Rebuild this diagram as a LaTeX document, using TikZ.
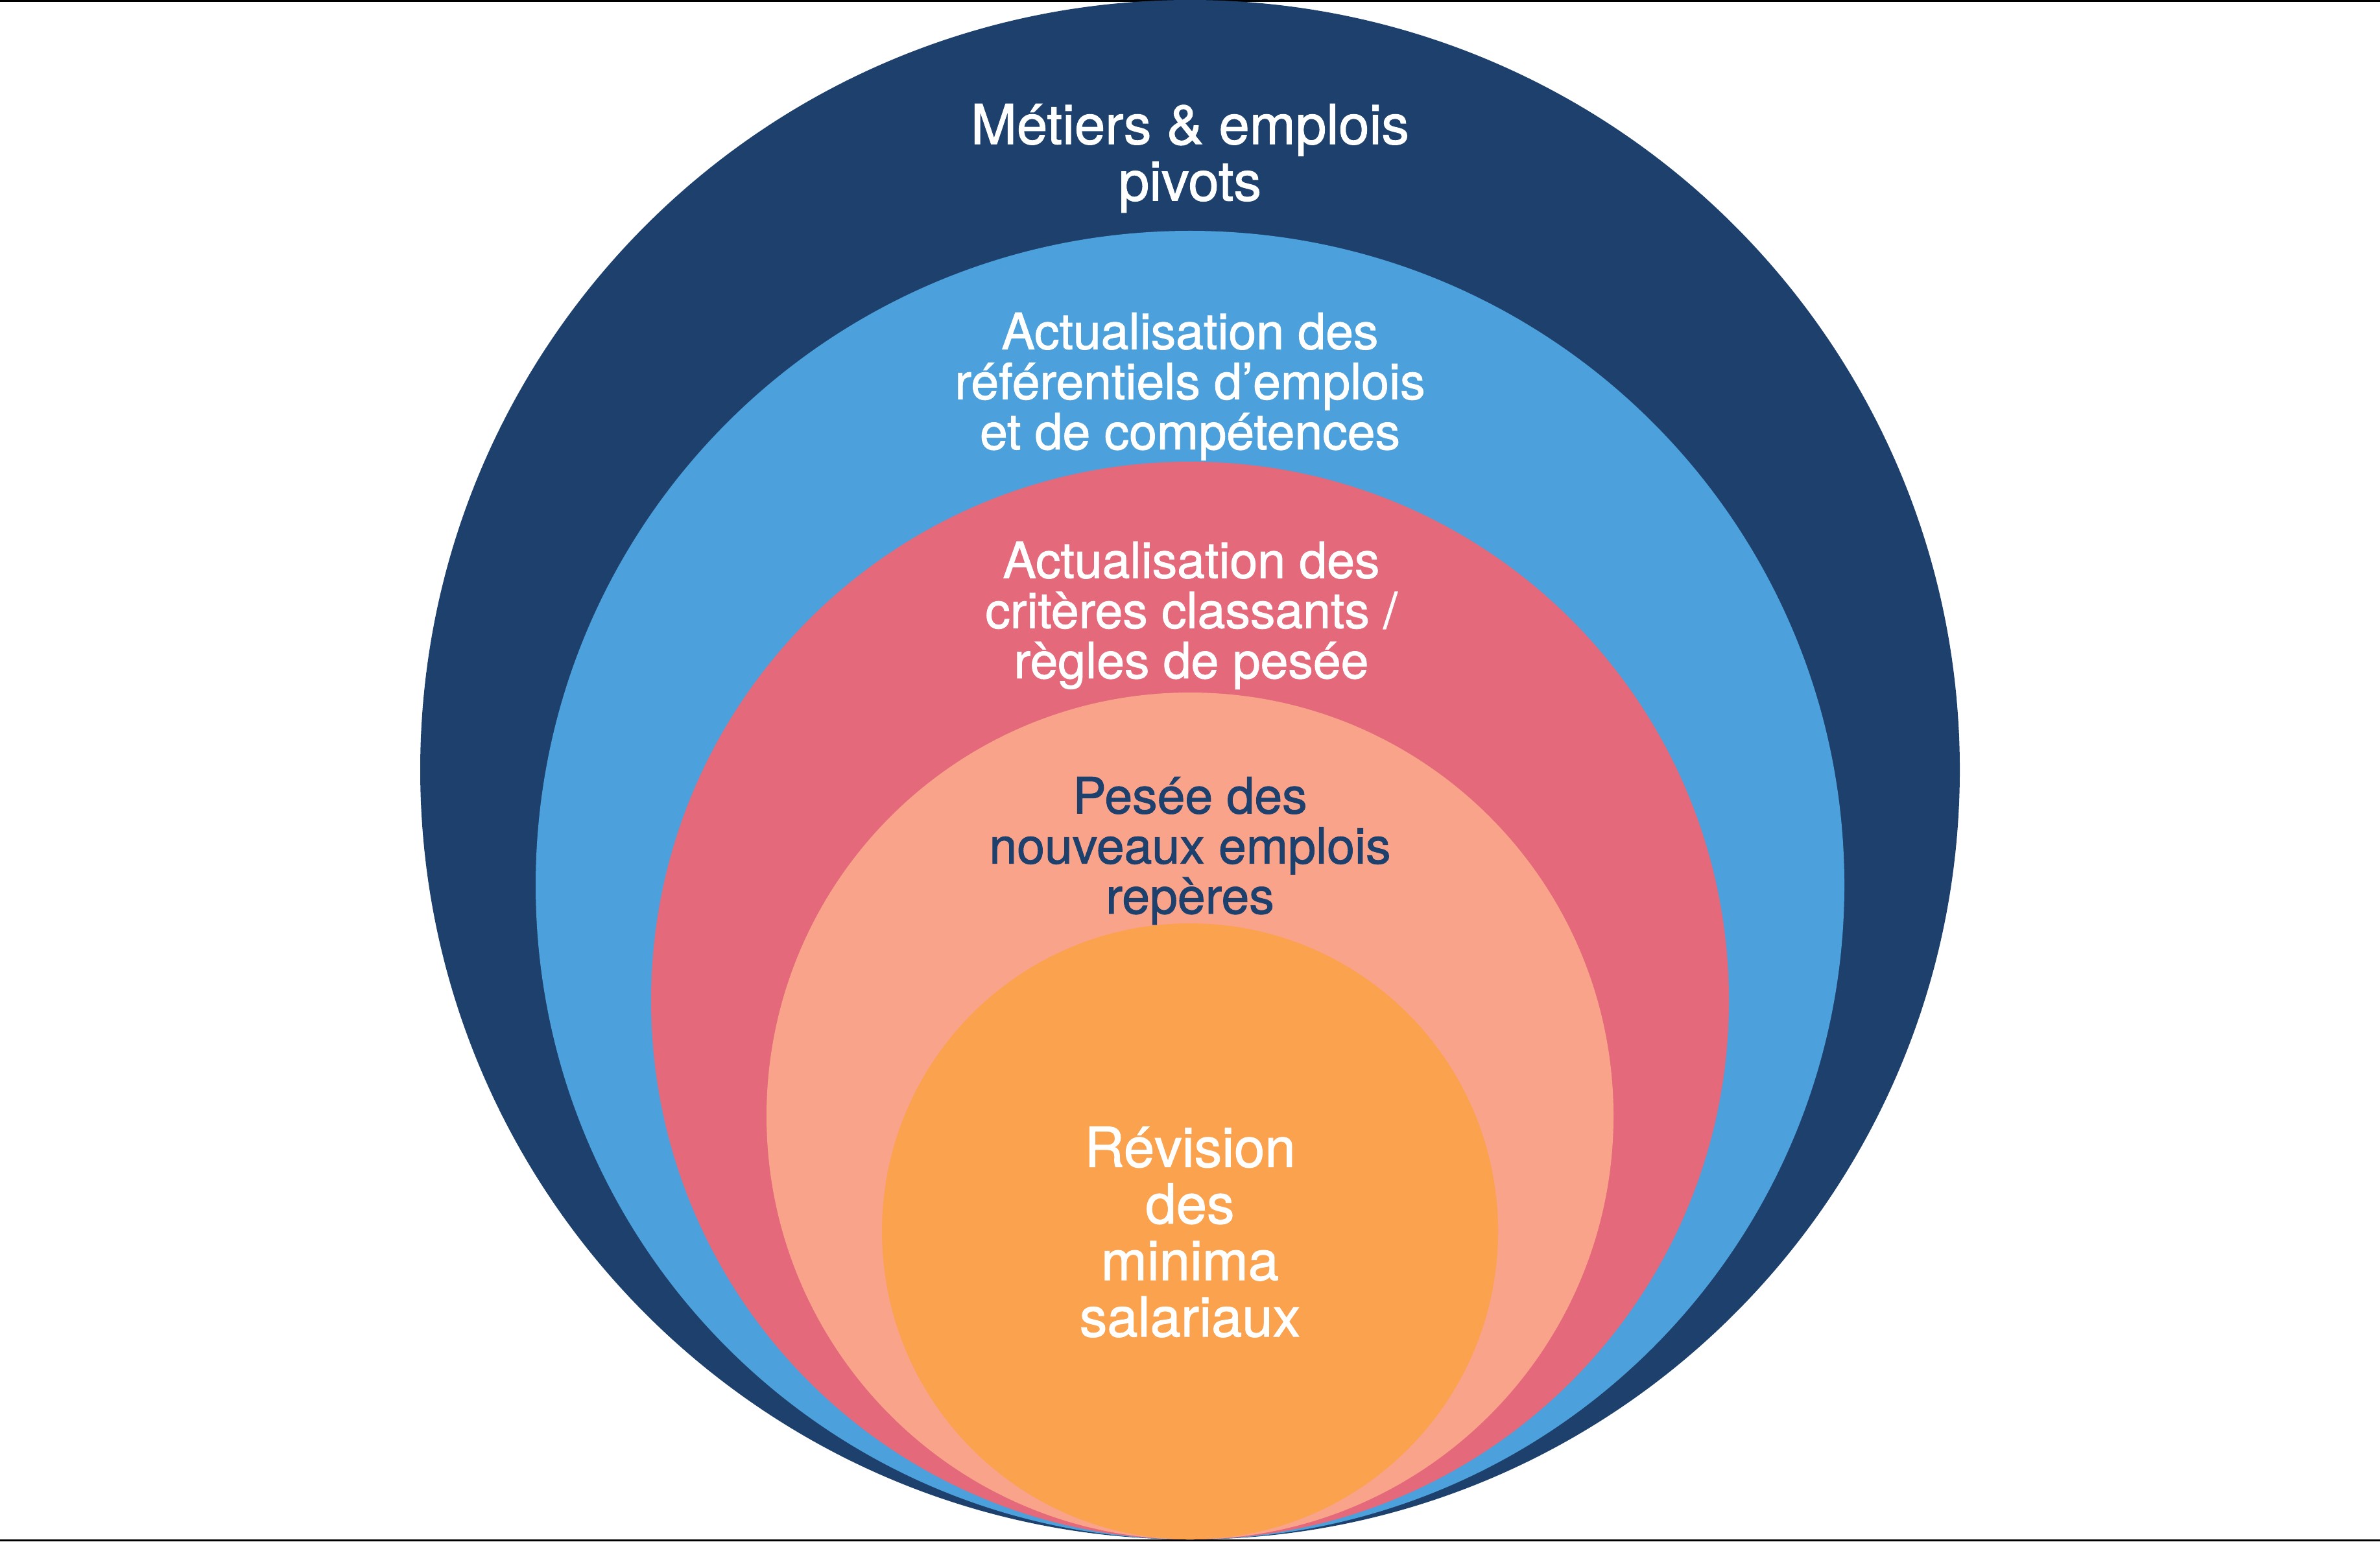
\documentclass[tikz,border=0pt]{standalone}
\usepackage{fontspec}
\setmainfont{TeX Gyre Heros}
\newfontfamily\medfont[FakeBold=1.3]{TeX Gyre Heros}
\definecolor{navy}{RGB}{30,64,108}
\definecolor{skyb}{RGB}{76,160,219}
\definecolor{rosered}{RGB}{228,105,123}
\definecolor{salmon}{RGB}{250,163,139}
\definecolor{orangec}{RGB}{250,162,78}
\tikzset{
  bigtxt/.style={align=center, inner sep=0pt, text=white, font=\medfont\fontsize{24.2pt}{24.8pt}\selectfont},
  midtxt/.style={align=center, inner sep=0pt, text=white, font=\medfont\fontsize{21.9pt}{22pt}\selectfont}
}
\begin{document}
\begin{tikzpicture}
\useasboundingbox (0,0) rectangle (36.70,23.77);
\fill[white] (0,0) rectangle (36.70,23.77);
% thin black rules top and bottom
\fill[black] (0,23.74) rectangle (36.70,23.77);
\fill[black] (0,0) rectangle (36.70,0.03);
% nested circles, all tangent at the bottom
\fill[navy]    (18.35,11.90) circle[radius=11.87];
\fill[skyb]    (18.35,10.12) circle[radius=10.09];
\fill[rosered] (18.35,8.34)  circle[radius=8.31];
\fill[salmon]  (18.35,6.56)  circle[radius=6.53];
\fill[orangec] (18.35,4.78)  circle[radius=4.75];
% labels
\node[bigtxt] (t1) at (18.35,21.33) {Métiers \& emplois\\pivots};
\node[midtxt] (t2) at (18.35,17.81) {Actualisation des\\référentiels d’emplois\\et de compétences};
\node[midtxt] (t3) at (18.37,14.28) {Actualisation des\\critères classants /\\règles de pesée};
\node[midtxt, text=navy] (t4) at (18.35,10.65) {Pesée des\\nouveaux emplois\\repères};
\node[bigtxt] (t5) at (18.35,4.77) {Révision\\des\\minima\\salariaux};
\end{tikzpicture}
\end{document}
